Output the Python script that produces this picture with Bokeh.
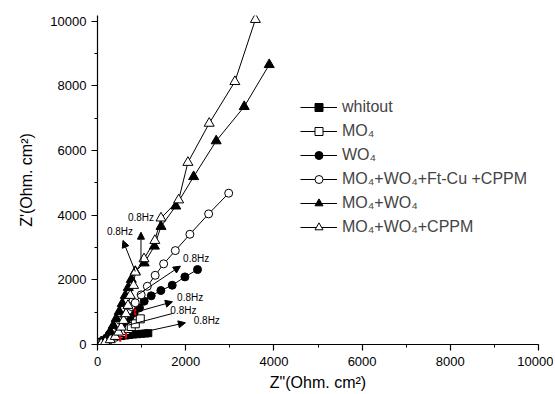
import math
from bokeh.plotting import figure
from bokeh.models import (ColumnDataSource, Range1d, SingleIntervalTicker, Legend,
                          LegendItem, Arrow, NormalHead)
from bokeh.core.properties import value
from bokeh.embed import file_html
from bokeh.resources import INLINE

FONT = "Liberation Sans"

# ---- data ----
names = ["whitout", "MO₄", "WO₄", "MO₄+WO₄+Ft-Cu +CPPM", "MO₄+WO₄", "MO₄+WO₄+CPPM"]

whitout_x = [61, 107, 152, 220, 289, 357, 448, 539, 630, 720, 811, 902, 993, 1084, 1152]
whitout_y = [31, 93, 139, 186, 216, 232, 247, 263, 278, 294, 309, 319, 331, 340, 350]

mo4_x = [84, 152, 220, 289, 357, 425, 493, 561, 630, 698, 766, 857, 970]
mo4_y = [46, 93, 139, 186, 232, 278, 325, 371, 433, 495, 557, 640, 794]

wo4_x = [84, 152, 220, 289, 380, 470, 561, 652, 743, 834, 952, 1059, 1218, 1437, 1694, 1982, 2268]
wo4_y = [31, 93, 155, 247, 371, 495, 619, 742, 866, 990, 1134, 1339, 1505, 1669, 1834, 2091, 2318]

ftcu_x = [61, 130, 198, 266, 334, 425, 516, 607, 698, 766, 855, 990, 1130, 1308, 1500, 1765, 2095, 2520, 2975]
ftcu_y = [31, 93, 186, 309, 433, 588, 742, 897, 1052, 1175, 1290, 1535, 1800, 2140, 2494, 2905, 3410, 4040, 4680]

mowo_x = [84, 152, 220, 289, 357, 425, 493, 561, 630, 698, 766, 857, 1060, 1290, 1440, 1775, 2180, 2692, 3327, 3894]
mowo_y = [31, 124, 247, 402, 588, 804, 1021, 1268, 1516, 1763, 2011, 2258, 2520, 3040, 3650, 4280, 5190, 6297, 7357, 8655]

cppm_x = [84, 175, 289, 402, 477, 539, 591, 645, 691, 743, 818, 857, 1055, 1300, 1440, 1840, 2050, 2533, 3115, 3580]
cppm_y = [22, 71, 145, 247, 380, 535, 742, 950, 1206, 1516, 1825, 2236, 2650, 3215, 3910, 4470, 5630, 6840, 8130, 10050]

red_x = [857, 645, 516]
red_y = [999, 280, 176]

# "0.8Hz" annotations: arrow start / end and label anchor (left, middle)
arrow_x0 = [857, 986, 900, 857, 677]
arrow_y0 = [2258, 2496, 1530, 999, 278]
arrow_x1 = [577, 986, 1880, 1700, 1993]
arrow_y1 = [3217, 3474, 2422, 1320, 671]
line5_x = [700, 1690]
line5_y = [600, 955]
lab_x = [214, 690, 1941, 1805, 1652, 2182]
lab_y = [3480, 3935, 2669, 1444, 1052, 742]
lab_text = ["0.8Hz"] * 6

x_ticks_interval = 2000
y_ticks_interval = 2000

# ---- figure ----
p = figure(width=553, height=394, output_backend="svg", toolbar_location=None,
           x_range=Range1d(0, 10000), y_range=Range1d(0, 10176),
           min_border_left=97, min_border_right=15, min_border_top=15, min_border_bottom=50)
p.outline_line_color = None
p.grid.visible = False
p.background_fill_color = "white"
p.border_fill_color = "white"

for ax, itv in ((p.xaxis[0], x_ticks_interval), (p.yaxis[0], y_ticks_interval)):
    ax.ticker = SingleIntervalTicker(interval=itv, num_minor_ticks=2)
    ax.major_tick_in = 0
    ax.major_tick_out = 6
    ax.minor_tick_in = 0
    ax.minor_tick_out = 3
    ax.axis_line_color = "black"
    ax.axis_line_width = 1.2
    ax.major_tick_line_width = 1.2
    ax.major_label_text_font = FONT
    ax.major_label_text_font_size = "13px"
    ax.major_label_text_color = "black"
    ax.axis_label_text_font = FONT
    ax.axis_label_text_font_size = "16px"
    ax.axis_label_text_font_style = "normal"
    ax.axis_label_text_color = "black"

p.xaxis.axis_label = 'Z"(Ohm. cm²)'
p.yaxis.axis_label = "Z'(Ohm. cm²)"
p.xaxis.major_label_standoff = 6
p.xaxis.axis_label_standoff = 5
p.yaxis.major_label_standoff = 5
p.yaxis.axis_label_standoff = 12

series = [
    (whitout_x, whitout_y, "square", "black", 7),
    (mo4_x, mo4_y, "square", "white", 8),
    (wo4_x, wo4_y, "circle", "black", 8),
    (ftcu_x, ftcu_y, "circle", "white", 8),
    (mowo_x, mowo_y, "triangle", "black", 10),
    (cppm_x, cppm_y, "triangle", "white", 10),
]

items = []
for name, (xs, ys, mk, fill, sz) in zip(names, series):
    src = ColumnDataSource(dict(x=xs, y=ys))
    ln = p.line("x", "y", source=src, line_color="black", line_width=1)
    sc = p.scatter("x", "y", source=src, marker=mk, size=sz, fill_color=fill,
                   line_color="black", line_width=1)
    items.append(LegendItem(label=name, renderers=[ln, sc]))

p.scatter(red_x, red_y, marker="dash", angle=math.pi / 2, size=6,
          line_color="red", line_width=2)

asrc = ColumnDataSource(dict(x0=arrow_x0, y0=arrow_y0, x1=arrow_x1, y1=arrow_y1))
p.add_layout(Arrow(x_start="x0", y_start="y0", x_end="x1", y_end="y1", source=asrc,
                   line_color="black", line_width=1,
                   end=NormalHead(size=7, fill_color="black", line_color="black", line_width=1)))
p.line(line5_x, line5_y, line_color="black", line_width=1)

p.text(x=lab_x, y=lab_y, text=lab_text, text_font=value(FONT), text_font_size="10px",
       text_align="left", text_baseline="middle", text_color="black")

legend = Legend(items=items, location=(203, 107), padding=0, margin=0, spacing=4,
                glyph_width=37, glyph_height=20, label_height=20, label_standoff=5,
                label_text_font=FONT, label_text_font_size="16px",
                border_line_color=None, background_fill_alpha=0)
p.add_layout(legend)

open("out.html", "w").write(file_html(p, INLINE))
